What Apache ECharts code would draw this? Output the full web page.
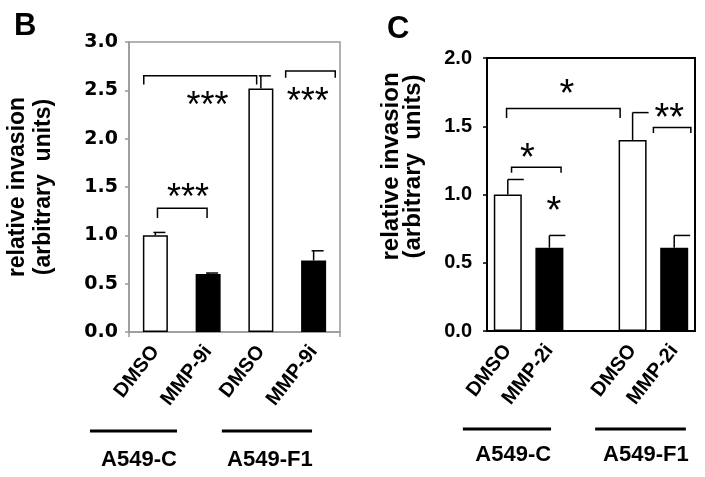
<!DOCTYPE html>
<html>
<head>
<meta charset="utf-8">
<script src="https://cdn.jsdelivr.net/npm/echarts@6/dist/echarts.min.js"></script>
<style>
  html, body { margin: 0; padding: 0; background: #fff; }
  #chart { width: 705px; height: 477px; }
</style>
</head>
<body>
<div id="chart"></div>
<script>
// panel B: MMP-9 inhibitor
const bCategories = ['DMSO', 'MMP-9i', 'DMSO', 'MMP-9i'];
const bValues = [1.0, 0.6, 2.52, 0.74];
const bErrors = [0.03, 0.01, 0.13, 0.10];
const bTicks = [0, 0.5, 1.0, 1.5, 2.0, 2.5, 3.0];
// brackets: [x1, x2, y, legY] in bar units
const bBrackets = [[-0.22, 1.92, 2.65, 2.56], [2.47, 3.41, 2.70, 2.63], [0.04, 0.98, 1.28, 1.18]];
const bStars = [[0.99, 2.41, '***'], [2.89, 2.45, '***'], [0.62, 1.46, '***']];
// groups: [name, lineFrom, lineTo, textX]
const bGroups = [['A549-C', -1.24, 0.41, -0.31], ['A549-F1', 1.26, 2.97, 2.17]];

// panel C: MMP-2 inhibitor ('' is the gap between the two cell lines)
const cCategories = ['DMSO', 'MMP-2i', '', 'DMSO', 'MMP-2i'];
const cValues = [1.0, 0.61, null, 1.40, 0.61];
const cErrors = [0.11, 0.09, null, 0.20, 0.09];
const cTicks = [0, 0.5, 1.0, 1.5, 2.0];
const cBrackets = [[-0.03, 2.70, 1.63, 1.56], [0.09, 1.28, 1.20, 1.16], [3.50, 4.40, 1.49, 1.45]];
const cStars = [[1.42, 1.79, '*'], [0.47, 1.32, '*'], [1.11, 0.93, '*'], [3.88, 1.61, '**']];
const cGroups = [['A549-C', -1.08, 1.04, 0.13], ['A549-F1', 2.10, 4.28, 3.32]];

const yName = 'relative invasion\n(arbitrary  units)';

const chart = echarts.init(document.getElementById('chart'));

function barData(cats, vals) {
  return vals.map((v, i) => ({
    value: v,
    itemStyle: {
      color: cats[i] === 'DMSO' ? '#fff' : '#000',
      borderColor: '#000',
      borderWidth: 1.5
    }
  }));
}

function errorSeries(xi, yi, vals, errs, capL, capR) {
  const data = [];
  vals.forEach((v, i) => { if (v != null) data.push([i, v, errs[i]]); });
  return {
    type: 'custom', xAxisIndex: xi, yAxisIndex: yi, clip: false, z: 3,
    data: data,
    renderItem: function (params, api) {
      const base = api.coord([api.value(0), api.value(1)]);
      const top = api.coord([api.value(0), api.value(1) + api.value(2)]);
      const st = { stroke: '#000', lineWidth: 1.5 };
      return {
        type: 'group', children: [
          { type: 'line', shape: { x1: base[0], y1: base[1], x2: top[0], y2: top[1] }, style: st },
          { type: 'line', shape: { x1: top[0] - capL, y1: top[1], x2: top[0] + capR, y2: top[1] }, style: st }
        ]
      };
    }
  };
}

function bracketSeries(xi, yi, list) {
  return {
    type: 'custom', xAxisIndex: xi, yAxisIndex: yi, clip: false, z: 4,
    data: list,
    renderItem: function (params, api) {
      const p1 = api.coord([api.value(0), api.value(3)]);
      const p2 = api.coord([api.value(0), api.value(2)]);
      const p3 = api.coord([api.value(1), api.value(2)]);
      const p4 = api.coord([api.value(1), api.value(3)]);
      return {
        type: 'polyline',
        shape: { points: [p1, p2, p3, p4] },
        style: { stroke: '#000', lineWidth: 1.5, fill: null }
      };
    }
  };
}

function starSeries(xi, yi, list, size) {
  return {
    type: 'custom', xAxisIndex: xi, yAxisIndex: yi, clip: false, z: 4,
    data: list.map(s => [s[0], s[1]]),
    renderItem: function (params, api) {
      const p = api.coord([api.value(0), api.value(1)]);
      return {
        type: 'text',
        style: {
          text: list[params.dataIndex][2],
          x: p[0], y: p[1] + size * 0.22,
          align: 'center', verticalAlign: 'middle',
          fontFamily: 'Liberation Sans', fontSize: size, fill: '#000'
        }
      };
    }
  };
}

function groupSeries(xi, yi, list, lineDy, textDy) {
  return {
    type: 'custom', xAxisIndex: xi, yAxisIndex: yi, clip: false, z: 4,
    data: list.map(g => [g[1], g[2], g[3]]),
    renderItem: function (params, api) {
      const a = api.coord([api.value(0), 0]);
      const b = api.coord([api.value(1), 0]);
      const t = api.coord([api.value(2), 0]);
      return {
        type: 'group', children: [
          { type: 'line', shape: { x1: a[0], y1: a[1] + lineDy, x2: b[0], y2: b[1] + lineDy },
            style: { stroke: '#000', lineWidth: 3 } },
          { type: 'text', style: {
              text: list[params.dataIndex][0], x: t[0], y: t[1] + textDy,
              align: 'center', verticalAlign: 'middle',
              fontFamily: 'Liberation Sans', fontWeight: 'bold', fontSize: 22, fill: '#000' } }
        ]
      };
    }
  };
}

const xLabel = {
  rotate: 52, margin: 16, color: '#000',
  fontFamily: 'Liberation Sans', fontWeight: 'bold', fontSize: 20
};

chart.setOption({
  animation: false,
  backgroundColor: '#fff',
  graphic: [
    { type: 'text', left: 14, top: 11, style: { text: 'B', fontFamily: 'Liberation Sans', fontWeight: 'bold', fontSize: 31, fill: '#000' } },
    { type: 'text', left: 387, top: 14, style: { text: 'C', fontFamily: 'Liberation Sans', fontWeight: 'bold', fontSize: 31, fill: '#000' } }
  ],
  grid: [
    { left: 129, top: 42, width: 211, height: 290, show: true, borderColor: '#999', borderWidth: 1.5, backgroundColor: '#fff' },
    { left: 487, top: 58, width: 208, height: 273, show: true, borderColor: '#000', borderWidth: 2, backgroundColor: '#fff' }
  ],
  xAxis: [
    { type: 'category', gridIndex: 0, data: bCategories,
      axisLine: { lineStyle: { color: '#999', width: 1.5 } },
      axisTick: { show: true, length: 5, interval: (i) => i === 2, lineStyle: { color: '#999', width: 1.5 } },
      axisLabel: xLabel },
    { type: 'category', gridIndex: 1, data: cCategories,
      axisLine: { lineStyle: { color: '#000', width: 2 } },
      axisTick: { show: false },
      axisLabel: xLabel },
    { type: 'value', gridIndex: 0, min: -0.5, max: 3.5, show: false },
    { type: 'value', gridIndex: 1, min: -0.5, max: 4.5, show: false }
  ],
  yAxis: [
    { type: 'value', gridIndex: 0, min: bTicks[0], max: bTicks[bTicks.length - 1], interval: 0.5,
      axisLine: { show: true, onZero: false, lineStyle: { color: '#999', width: 1.5 } },
      axisTick: { show: true, length: 4, lineStyle: { color: '#999', width: 1.5 } },
      splitLine: { show: false },
      axisLabel: { margin: 11, color: '#000', fontFamily: 'DejaVu Sans', fontWeight: 'bold', fontSize: 19,
        formatter: v => v.toFixed(1) },
      name: yName, nameLocation: 'middle', nameRotate: 90, nameGap: 72,
      nameTextStyle: { color: '#000', fontFamily: 'Liberation Sans', fontWeight: 'bold', fontSize: 23, lineHeight: 26 } },
    { type: 'value', gridIndex: 1, min: cTicks[0], max: cTicks[cTicks.length - 1], interval: 0.5,
      axisLine: { show: true, onZero: false, lineStyle: { color: '#000', width: 2 } },
      axisTick: { show: true, length: 4, lineStyle: { color: '#000', width: 1.5 } },
      splitLine: { show: false },
      axisLabel: { margin: 15, color: '#000', fontFamily: 'Liberation Sans', fontWeight: 'bold', fontSize: 20,
        formatter: v => v.toFixed(1) },
      name: yName, nameLocation: 'middle', nameRotate: 90, nameGap: 63,
      nameTextStyle: { color: '#000', fontFamily: 'Liberation Sans', fontWeight: 'bold', fontSize: 24, lineHeight: 22,
        padding: [0, 0, 0, 56] } }
  ],
  series: [
    { type: 'bar', xAxisIndex: 0, yAxisIndex: 0, barWidth: 25, data: barData(bCategories, bValues) },
    { type: 'bar', xAxisIndex: 1, yAxisIndex: 1, barWidth: 28, data: barData(cCategories, cValues) },
    errorSeries(0, 0, bValues, bErrors, 2, 10),
    errorSeries(1, 1, cValues, cErrors, 0, 16),
    bracketSeries(2, 0, bBrackets),
    bracketSeries(3, 1, cBrackets),
    starSeries(2, 0, bStars, 36),
    starSeries(3, 1, cStars, 38),
    groupSeries(2, 0, bGroups, 99, 128),
    groupSeries(3, 1, cGroups, 98, 124)
  ]
});
</script>
</body>
</html>
